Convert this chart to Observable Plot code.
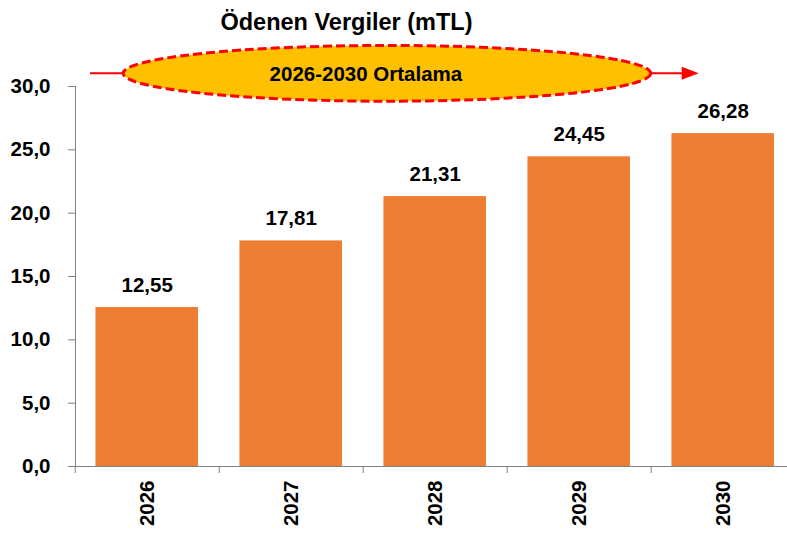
<!DOCTYPE html>
<html><head><meta charset="utf-8">
<script src="https://cdn.jsdelivr.net/npm/d3@7"></script>
<script src="https://cdn.jsdelivr.net/npm/@observablehq/plot@0.6"></script>
<style>
body{margin:0;background:#fff;}
#chart svg{font-family:"Liberation Sans",Arial,sans-serif;}
#chart svg text{fill:#000;}
</style>
</head><body><div id="chart"></div>
<script>
const title = "Ödenen Vergiler (mTL)";
const years = ["2026", "2027", "2028", "2029", "2030"];
const values = [12.55, 17.81, 21.31, 24.45, 26.28];
const yTicks = [0, 5, 10, 15, 20, 25, 30];
const avgLabel = "2026-2030 Ortalama";

const data = years.map((year, i) => ({year, value: values[i]}));
const fmt1 = v => v.toFixed(1).replace(".", ",");
const fmt2 = v => v.toFixed(2).replace(".", ",");

const plot = Plot.plot({
  width: 787,
  height: 535,
  marginTop: 86,
  marginBottom: 69,
  marginLeft: 75,
  marginRight: 0,
  style: {fontSize: "20.5px", fontWeight: "bold", color: "#808080", background: "#fff"},
  x: {domain: years, range: [75, 794.4], paddingInner: 0.288, paddingOuter: 0.142, align: 0.5, round: false, label: null},
  y: {domain: [0, 30], range: [466, 86], ticks: yTicks, tickFormat: fmt1, tickSize: 7, tickPadding: 18, line: true, label: null},
  marks: [
    Plot.barY(data, {x: "year", y: "value", fill: "#ED7D31"}),
    Plot.ruleY([0], {stroke: "#808080"}),
    Plot.text(data, {x: "year", y: "value", text: d => fmt2(d.value), lineAnchor: "bottom", dy: -16, fontSize: 20.5, fontWeight: "bold"}),
    Plot.axisX({tickSize: 7, tickFormat: () => "", dx: -72}),
    Plot.axisX({tickSize: 0, tickPadding: 14, tickRotate: -90, fontSize: 20.5, fontWeight: "bold"}),
    Plot.text([title], {frameAnchor: "top", lineAnchor: "middle", dx: -85, dy: -64, fontSize: 23.5, fontWeight: "bold"})
  ]
});
document.getElementById("chart").appendChild(plot);

// Annotation ellipse "2026-2030 Ortalama" positioned via the plot's scales
const xs = plot.scale("x"), ys = plot.scale("y");
const left = xs.apply("2026") + 0.27 * xs.bandwidth;
const right = xs.apply("2030") - (xs.step - xs.bandwidth) / 2;
const cy = ys.apply(31.0);
const ry = ys.apply(28.8) - cy;
const cx = (left + right) / 2;
const g = d3.select(plot).append("g").attr("aria-label", "average annotation");
g.append("line").attr("x1", 90).attr("x2", left).attr("y1", cy).attr("y2", cy)
  .attr("stroke", "#FF0000").attr("stroke-width", 2);
g.append("line").attr("x1", right).attr("x2", right + 33).attr("y1", cy).attr("y2", cy)
  .attr("stroke", "#FF0000").attr("stroke-width", 2);
g.append("polygon")
  .attr("points", `${right + 31},${cy - 6.5} ${right + 48},${cy} ${right + 31},${cy + 6.5}`)
  .attr("fill", "#FF0000");
g.append("ellipse").attr("cx", cx).attr("cy", cy).attr("rx", (right - left) / 2).attr("ry", ry)
  .attr("fill", "#FFC000").attr("stroke", "#FF0000").attr("stroke-width", 3)
  .attr("stroke-dasharray", "9,4");
g.append("text").attr("x", cx - 21).attr("y", cy).attr("dy", "0.35em")
  .attr("text-anchor", "middle").attr("font-size", 20.5).attr("font-weight", "bold")
  .text(avgLabel);
</script>
</body></html>
